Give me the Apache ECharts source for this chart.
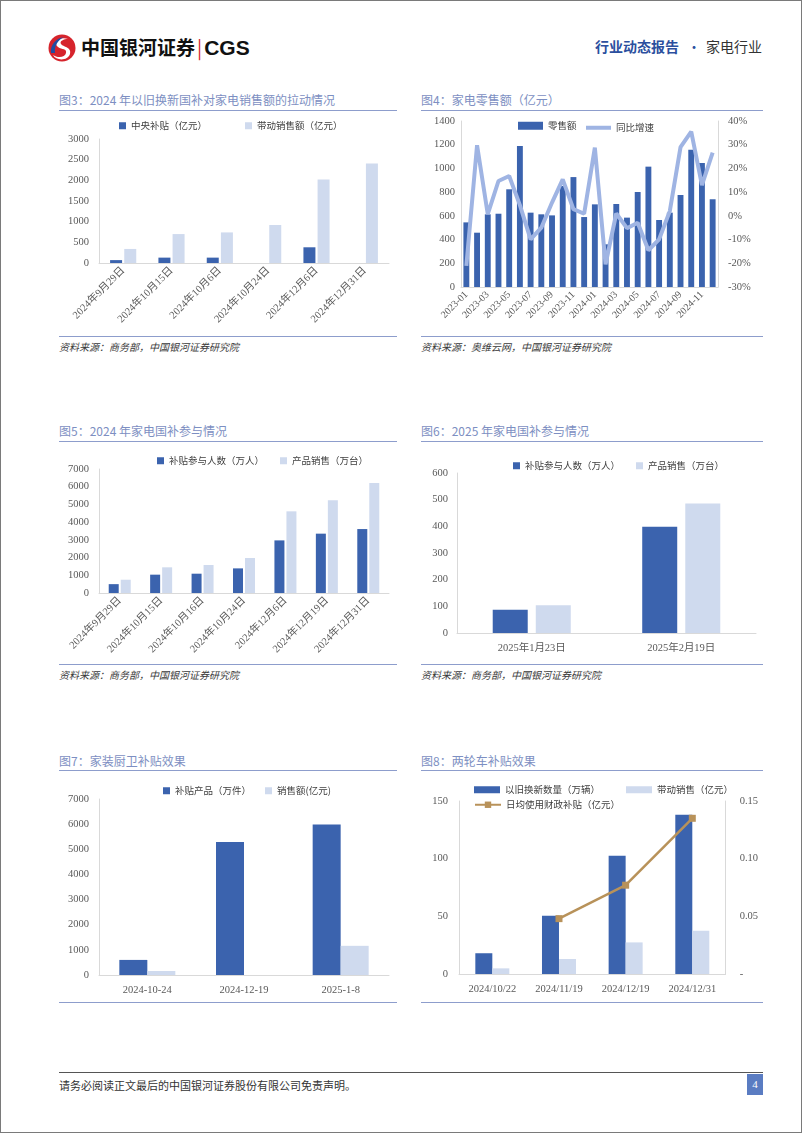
<!DOCTYPE html>
<html><head><meta charset="utf-8">
<script src="https://cdn.jsdelivr.net/npm/echarts/dist/echarts.min.js"></script>
<style>
html,body{margin:0;padding:0;background:#fff;}
#page{position:relative;width:802px;height:1133px;border:1px solid #7a7a7a;box-sizing:border-box;overflow:hidden;font-family:"Noto Sans CJK SC",sans-serif;}
.abs{position:absolute;}
.ttl{position:absolute;font-size:12px;color:#7d8fc2;white-space:nowrap;line-height:14px;}
.hl{position:absolute;height:1px;background:#8d9dcc;}
.src{position:absolute;font-size:10px;color:#3a3a3a;font-style:italic;white-space:nowrap;line-height:12px;}
.ch{position:absolute;}
</style></head><body>
<div id="page">
  <svg class="abs" style="left:46px;top:32px" width="30" height="30" viewBox="0 0 30 30">
    <circle cx="15" cy="15" r="13.5" fill="#d6242c"/>
    <path d="M21 6 C12 3 6 10 11 14 C15 17 20 15 19 20 C18 25 10 25 6 22 C9 28 21 28 23 21 C25 14 16 14 14 11 C12 8 17 6 21 6 Z" fill="#ffffff"/>
    <path d="M4 20 C3 12 9 5 17 4 C11 7 7 13 8 20 Z" fill="#1f4ea3"/>
  </svg>
  <div class="abs" style="left:80px;top:33px;font-size:19px;font-weight:bold;color:#111;white-space:nowrap;line-height:26px;">中国银河证券<span style="color:#d6242c;font-weight:normal;margin:0 2px;">|</span><span style="font-family:'Liberation Sans',sans-serif;font-size:21px;">CGS</span></div>
  <div class="abs" style="left:594px;top:36px;font-size:14px;font-weight:bold;color:#2b4f9e;white-space:nowrap;line-height:18px;">行业动态报告</div>
  <div class="abs" style="left:686px;top:36px;font-size:14px;color:#2b4f9e;line-height:18px;">•</div>
  <div class="abs" style="left:705px;top:36px;font-size:14px;color:#333;white-space:nowrap;line-height:18px;">家电行业</div>

  <div class="ttl" style="left:58px;top:92px">图3：2024 年以旧换新国补对家电销售额的拉动情况</div>
  <div class="hl" style="left:58px;top:109px;width:338px"></div>
  <div class="ch" id="c3" style="left:55px;top:112px;width:340px;height:222px"></div>
  <div class="hl" style="left:58px;top:335px;width:338px"></div>
  <div class="src" style="left:58px;top:340px">资料来源：商务部，中国银河证券研究院</div>

  <div class="ttl" style="left:420px;top:92px">图4：家电零售额（亿元）</div>
  <div class="hl" style="left:420px;top:109px;width:342px"></div>
  <div class="ch" id="c4" style="left:415px;top:112px;width:345px;height:222px"></div>
  <div class="hl" style="left:420px;top:335px;width:342px"></div>
  <div class="src" style="left:420px;top:340px">资料来源：奥维云网，中国银河证券研究院</div>

  <div class="ttl" style="left:58px;top:423px">图5：2024 年家电国补参与情况</div>
  <div class="hl" style="left:58px;top:440px;width:338px"></div>
  <div class="ch" id="c5" style="left:55px;top:445px;width:340px;height:216px"></div>
  <div class="hl" style="left:58px;top:663px;width:338px"></div>
  <div class="src" style="left:58px;top:668px">资料来源：商务部，中国银河证券研究院</div>

  <div class="ttl" style="left:420px;top:423px">图6：2025 年家电国补参与情况</div>
  <div class="hl" style="left:420px;top:440px;width:342px"></div>
  <div class="ch" id="c6" style="left:420px;top:445px;width:340px;height:216px"></div>
  <div class="hl" style="left:420px;top:663px;width:342px"></div>
  <div class="src" style="left:420px;top:668px">资料来源：商务部，中国银河证券研究院</div>

  <div class="ttl" style="left:58px;top:753px">图7：家装厨卫补贴效果</div>
  <div class="hl" style="left:58px;top:769px;width:338px"></div>
  <div class="ch" id="c7" style="left:55px;top:775px;width:340px;height:224px"></div>
  <div class="hl" style="left:58px;top:1001px;width:338px"></div>

  <div class="ttl" style="left:420px;top:753px">图8：两轮车补贴效果</div>
  <div class="hl" style="left:420px;top:769px;width:342px"></div>
  <div class="ch" id="c8" style="left:420px;top:775px;width:340px;height:224px"></div>
  <div class="hl" style="left:420px;top:1001px;width:342px"></div>

  <div class="abs" style="left:58px;top:1071px;width:704px;height:1px;background:#555;"></div>
  <div class="abs" style="left:58px;top:1077px;font-size:11px;color:#333;white-space:nowrap;line-height:14px;">请务必阅读正文最后的中国银河证券股份有限公司免责声明。</div>
  <div class="abs" style="left:746px;top:1073px;width:16px;height:21px;background:#5a7cc2;color:#fff;font-size:11px;line-height:21px;text-align:center;font-family:'Liberation Serif',serif;">4</div>
</div>
<script>
// ---------------- data ----------------
const fig3Categories = ['2024年9月29日','2024年10月15日','2024年10月6日','2024年10月24日','2024年12月6日','2024年12月31日'];
const fig3CentralSubsidy = [70, 130, 130, null, 380, null];
const fig3DrivenSales = [340, 700, 740, 920, 2020, 2410];

const fig4Months = ['2023-01','2023-02','2023-03','2023-04','2023-05','2023-06','2023-07','2023-08','2023-09','2023-10','2023-11','2023-12',
                    '2024-01','2024-02','2024-03','2024-04','2024-05','2024-06','2024-07','2024-08','2024-09','2024-10','2024-11','2024-12'];
const fig4Retail = [545, 458, 613, 618, 824, 1189, 627, 613, 604, 852, 927, 590, 697, 360, 700, 585, 801, 1015, 565, 627, 776, 1158, 1046, 740];
const fig4Yoy = [-21.1, 29.8, 0.7, 14.7, 16.8, 4.5, -9.9, -5.0, 5.6, 15.4, 2.8, 0.9, 28.8, -20.4, 1.0, -5.2, -2.9, -14.5, -9.9, 2.0, 29.0, 35.5, 13.0, 26.7];

const fig5Categories = ['2024年9月29日','2024年10月15日','2024年10月16日','2024年10月24日','2024年12月6日','2024年12月19日','2024年12月31日'];
const fig5People = [500, 1035, 1090, 1390, 2970, 3350, 3610];
const fig5Products = [750, 1450, 1580, 1975, 4610, 5230, 6210];

const fig6Categories = ['2025年1月23日','2025年2月19日'];
const fig6People = [87, 398];
const fig6Products = [104, 486];

const fig7Categories = ['2024-10-24','2024-12-19','2025-1-8'];
const fig7Products = [600, 5290, 5990];
const fig7Sales = [160, null, 1160];

const fig8Categories = ['2024/10/22','2024/11/19','2024/12/19','2024/12/31'];
const fig8Quantity = [18, 50.5, 102.5, 138];
const fig8Sales = [4.9, 13, 27.4, 37.5];
const fig8DailySubsidy = [null, 0.048, 0.077, 0.135];

// ---------------- styles ----------------
const DARK = '#3b63ae', LIGHT = '#cfdaee', AXIS = '#d9d9d9', LBL = '#595959';
const NUMFONT = '"Liberation Serif","Noto Sans CJK SC",serif';
const CJK = '"Noto Sans CJK SC",sans-serif';
const plain = function(v){ return String(v); };
function catAxis(cats, rotate, extra){
  return Object.assign({type:'category', data:cats,
    axisLine:{show:true,lineStyle:{color:AXIS,width:1}}, axisTick:{show:false},
    axisLabel:{color:LBL,fontSize:10.5,fontFamily:NUMFONT,rotate:rotate,interval:0,margin:rotate?6:10}}, extra||{});
}
function valAxis(min,max,interval,extra){
  return Object.assign({type:'value',min:min,max:max,interval:interval,
    axisLine:{show:true,lineStyle:{color:AXIS,width:1}}, axisTick:{show:false}, splitLine:{show:false},
    axisLabel:{color:LBL,fontSize:10.5,fontFamily:NUMFONT,margin:10,formatter:plain}}, extra||{});
}
function legendText(){ return {color:'#404040',fontSize:9.5,fontFamily:CJK}; }
function mk(id, opt){ const c = echarts.init(document.getElementById(id), null, {renderer:'canvas'}); opt.animation=false; c.setOption(opt); }

// Fig 3
mk('c3', {
  grid:{left:43,right:7,top:26,height:124},
  legend:{left:58,top:3,itemWidth:7,itemHeight:7,itemGap:38,textStyle:legendText(),icon:'rect',
    data:['中央补贴（亿元）','带动销售额（亿元）']},
  xAxis:catAxis(fig3Categories,45),
  yAxis:valAxis(0,3000,500),
  series:[
    {name:'中央补贴（亿元）',type:'bar',data:fig3CentralSubsidy,barWidth:12,barGap:'18%',itemStyle:{color:DARK}},
    {name:'带动销售额（亿元）',type:'bar',data:fig3DrivenSales,barWidth:12,itemStyle:{color:LIGHT}}
  ]
});

// Fig 4
mk('c4', {
  grid:{left:45,right:43,top:8,height:166},
  legend:[
    {left:97,top:3,itemWidth:25,itemHeight:8,textStyle:legendText(),icon:'rect',data:['零售额']},
    {left:165,top:5,itemWidth:25,itemHeight:4,textStyle:legendText(),icon:'rect',data:['同比增速']}
  ],
  xAxis:catAxis(fig4Months,45,{axisLabel:{color:LBL,fontSize:10,fontFamily:NUMFONT,rotate:45,interval:1,margin:6}}),
  yAxis:[valAxis(0,1400,200,{axisLabel:{color:LBL,fontSize:10.5,fontFamily:NUMFONT,margin:6,formatter:plain}}),
         valAxis(-30,40,10,{position:'right',axisLabel:{color:LBL,fontSize:10.5,fontFamily:NUMFONT,margin:10,formatter:'{value}%'}})],
  series:[
    {name:'零售额',type:'bar',data:fig4Retail,barWidth:'55%',itemStyle:{color:DARK}},
    {name:'同比增速',type:'line',yAxisIndex:1,data:fig4Yoy,symbol:'none',lineStyle:{color:'#9fb4e3',width:4},itemStyle:{color:'#9fb4e3'}}
  ]
});

// Fig 5
mk('c5', {
  grid:{left:43,right:7,top:23,height:124},
  legend:{left:96,top:5,itemWidth:7,itemHeight:7,itemGap:16,textStyle:legendText(),icon:'rect',
    data:['补贴参与人数（万人）','产品销售（万台）']},
  xAxis:catAxis(fig5Categories,45),
  yAxis:valAxis(0,7000,1000),
  series:[
    {name:'补贴参与人数（万人）',type:'bar',data:fig5People,barWidth:10,barGap:'20%',itemStyle:{color:DARK}},
    {name:'产品销售（万台）',type:'bar',data:fig5Products,barWidth:10,itemStyle:{color:LIGHT}}
  ]
});

// Fig 6
mk('c6', {
  grid:{left:36,right:5,top:27,height:160},
  legend:{left:87,top:10,itemWidth:7,itemHeight:7,itemGap:16,textStyle:legendText(),icon:'rect',
    data:['补贴参与人数（万人）','产品销售（万台）']},
  xAxis:catAxis(fig6Categories,0),
  yAxis:valAxis(0,600,100,{axisLabel:{color:LBL,fontSize:10.5,fontFamily:NUMFONT,margin:9,formatter:plain}}),
  series:[
    {name:'补贴参与人数（万人）',type:'bar',data:fig6People,barWidth:35,barGap:'23%',itemStyle:{color:DARK}},
    {name:'产品销售（万台）',type:'bar',data:fig6Products,barWidth:35,itemStyle:{color:LIGHT}}
  ]
});

// Fig 7
mk('c7', {
  grid:{left:43,right:7,top:23,height:176},
  legend:{left:102,top:5,itemWidth:7,itemHeight:7,itemGap:14,textStyle:legendText(),icon:'rect',
    data:['补贴产品（万件）','销售额(亿元)']},
  xAxis:catAxis(fig7Categories,0),
  yAxis:valAxis(0,7000,1000),
  series:[
    {name:'补贴产品（万件）',type:'bar',data:fig7Products,barWidth:28,barGap:'0%',itemStyle:{color:DARK}},
    {name:'销售额(亿元)',type:'bar',data:fig7Sales,barWidth:28,itemStyle:{color:LIGHT}}
  ]
});

// Fig 8
mk('c8', {
  grid:{left:38,right:32,top:25,height:173},
  legend:[
    {left:48,top:4,itemWidth:26,itemHeight:7,textStyle:legendText(),icon:'rect',data:['以旧换新数量（万辆）']},
    {left:200,top:4,itemWidth:26,itemHeight:7,textStyle:legendText(),icon:'rect',data:['带动销售（亿元）']},
    {left:48,top:19,itemWidth:26,itemHeight:8,textStyle:legendText(),data:['日均使用财政补贴（亿元）']}
  ],
  xAxis:catAxis(fig8Categories,0),
  yAxis:[valAxis(0,150,50,{axisLabel:{color:LBL,fontSize:10.5,fontFamily:NUMFONT,margin:11,formatter:plain}}),
         valAxis(0,0.15,0.05,{position:'right',axisLabel:{color:LBL,fontSize:10.5,fontFamily:NUMFONT,margin:14,
           formatter:function(v){return Math.abs(v)<1e-9?'-':v.toFixed(2);}}})],
  series:[
    {name:'以旧换新数量（万辆）',type:'bar',data:fig8Quantity,barWidth:17,barGap:'0%',itemStyle:{color:DARK}},
    {name:'带动销售（亿元）',type:'bar',data:fig8Sales,barWidth:17,itemStyle:{color:LIGHT}},
    {name:'日均使用财政补贴（亿元）',type:'line',yAxisIndex:1,data:fig8DailySubsidy,symbol:'rect',symbolSize:7,
     lineStyle:{color:'#b8925a',width:2.5},itemStyle:{color:'#b8925a'}}
  ]
});
</script>
</body></html>
